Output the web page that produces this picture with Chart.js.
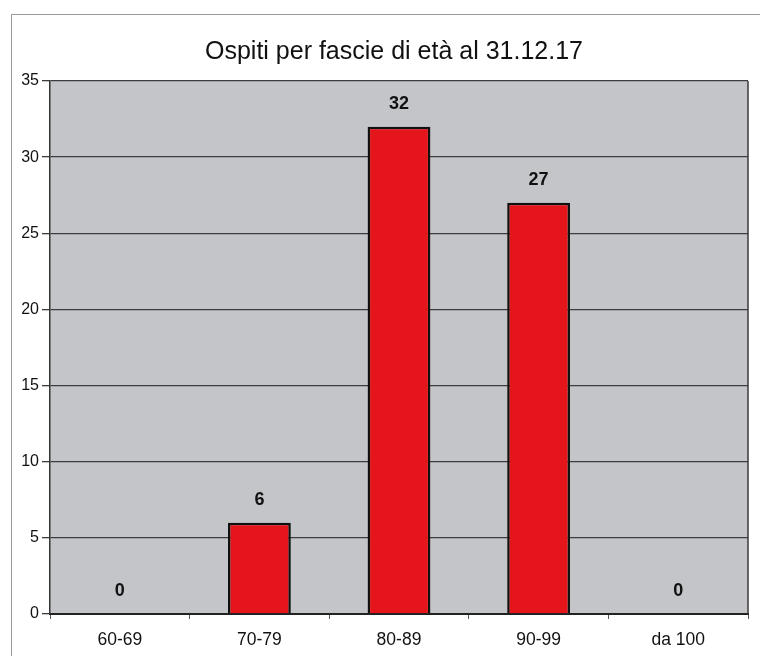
<!DOCTYPE html>
<html>
<head>
<meta charset="utf-8">
<script src="https://cdn.jsdelivr.net/npm/chart.js@4/dist/chart.umd.min.js"></script>
<style>
  html, body { margin: 0; padding: 0; background: #fff; }
  #wrap { position: relative; width: 760px; height: 656px; }
  #frame { position: absolute; left: 11px; top: 14px; right: -2px; bottom: -2px;
           border-left: 1px solid #9a9a9a; border-top: 1px solid #9a9a9a; pointer-events: none; }
</style>
</head>
<body>
<div id="wrap">
  <canvas id="grafico" width="760" height="656"></canvas>
  <div id="frame"></div>
</div>
<script>
const fasce = ['60-69', '70-79', '80-89', '90-99', 'da 100'];
const ospiti = [0, 6, 32, 27, 0];
const titolo = 'Ospiti per fascie di età al 31.12.17';

const ctx = document.getElementById('grafico');
Chart.defaults.font.family = '"Liberation Sans", Arial, sans-serif';
Chart.defaults.color = '#111';

// sfondo grigio dell'area del grafico + bordo destro
const sfondoArea = {
  id: 'sfondoArea',
  afterLayout(chart) {
    // il titolo nell'originale è un po' spostato a destra
    const t = chart.titleBlock;
    if (t) { t.left += 14; t.right += 14; }
  },
  beforeDraw(chart) {
    const { ctx, chartArea: a } = chart;
    ctx.save();
    ctx.fillStyle = '#c3c5c8';
    ctx.fillRect(a.left, a.top, a.right - a.left, a.bottom - a.top);
    ctx.restore();
  },
  afterDraw(chart) {
    const { ctx, chartArea: a } = chart;
    ctx.save();
    ctx.strokeStyle = '#3a3a3a';
    ctx.lineWidth = 1.5;
    ctx.beginPath();
    ctx.moveTo(a.right, a.top);
    ctx.lineTo(a.right, a.bottom);
    ctx.stroke();
    ctx.restore();
  }
};

// etichette con i valori sopra le barre
const etichette = {
  id: 'etichette',
  afterDatasetsDraw(chart) {
    const { ctx } = chart;
    const meta = chart.getDatasetMeta(0);
    ctx.save();
    ctx.font = 'bold 18px "Liberation Sans", Arial, sans-serif';
    ctx.fillStyle = '#111';
    ctx.textAlign = 'center';
    ctx.textBaseline = 'middle';
    meta.data.forEach((bar, i) => {
      ctx.fillText(String(ospiti[i]), bar.x, bar.y - 23);
    });
    ctx.restore();
  }
};

new Chart(ctx, {
  type: 'bar',
  data: {
    labels: fasce,
    datasets: [{
      label: 'Ospiti',
      data: ospiti,
      backgroundColor: '#e5161b',
      borderColor: '#111',
      borderWidth: 2.5,
      categoryPercentage: 1,
      barPercentage: 0.45
    }]
  },
  options: {
    responsive: false,
    animation: false,
    layout: { padding: { left: 12, right: 12, top: 18, bottom: 0 } },
    plugins: {
      legend: { display: false },
      tooltip: { enabled: false },
      title: {
        display: true,
        text: titolo,
        color: '#111',
        font: { size: 25, weight: 'normal' },
        padding: { top: 19, bottom: 14 }
      }
    },
    scales: {
      x: {
        grid: { drawOnChartArea: false, drawTicks: true, tickLength: 5, color: '#555', offset: true },
        border: { color: '#222', width: 2 },
        ticks: { font: { size: 17.5 }, color: '#111', padding: 11 },
        afterFit(scale) { scale.height = 42; }
      },
      y: {
        min: 0,
        max: 35,
        ticks: { stepSize: 5, font: { size: 16 }, color: '#111', padding: 3 },
        grid: { color: '#3c3c3c', lineWidth: 1.3, tickLength: 8 },
        border: { color: '#333', width: 1.5 },
        afterFit(scale) { scale.width = 38; }
      }
    }
  },
  plugins: [sfondoArea, etichette]
});
</script>
</body>
</html>
